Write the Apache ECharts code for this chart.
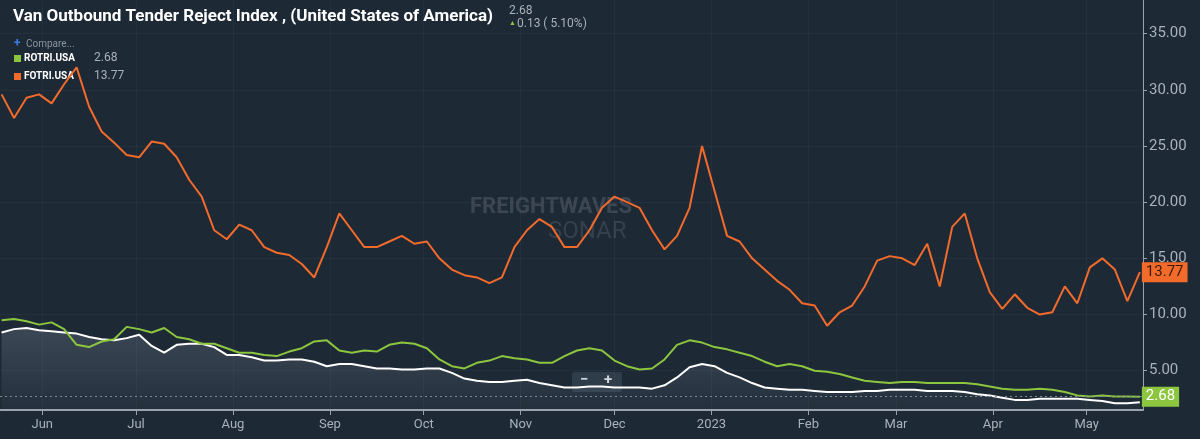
<!DOCTYPE html>
<html><head><meta charset="utf-8">
<script src="https://cdn.jsdelivr.net/npm/echarts@6/dist/echarts.min.js"></script>
<style>html,body{margin:0;padding:0;background:#1e2936}#c{width:1200px;height:439px}</style>
</head><body><div id="c"></div>
<script>
const startDate = '2022-05-19';
const stepDays = 4;
const fotri = [29.6,27.5,29.3,29.6,28.8,30.5,32.0,28.5,26.3,25.3,24.2,24.0,25.4,25.2,24.0,22.0,20.5,17.5,16.7,18.0,17.5,16.0,15.5,15.3,14.5,13.3,16.0,19.0,17.5,16.0,16.0,16.5,17.0,16.3,16.5,15.0,14.0,13.5,13.3,12.8,13.3,16.0,17.5,18.5,17.8,16.0,16.0,17.5,19.5,20.5,20.0,19.5,17.5,15.8,17.0,19.5,25.0,21.0,17.0,16.5,15.0,14.0,13.0,12.2,11.0,10.8,9.0,10.2,10.8,12.5,14.8,15.2,15.0,14.4,16.3,12.5,17.8,19.0,15.0,12.0,10.5,11.8,10.6,10.0,10.2,12.5,11.0,14.2,15.0,14.0,11.2,13.77];
const rotri = [9.5,9.6,9.4,9.1,9.3,8.7,7.3,7.1,7.6,7.8,8.9,8.7,8.4,8.8,8.0,7.8,7.4,7.4,7.0,6.6,6.6,6.4,6.3,6.7,7.0,7.6,7.7,6.8,6.6,6.8,6.7,7.3,7.5,7.4,7.0,6.0,5.4,5.2,5.7,5.9,6.3,6.1,6.0,5.7,5.7,6.3,6.8,7.0,6.8,5.9,5.4,5.1,5.2,6.0,7.3,7.7,7.5,7.1,6.9,6.6,6.3,5.8,5.4,5.6,5.4,5.0,4.9,4.7,4.4,4.1,4.0,3.9,4.0,4.0,3.9,3.9,3.9,3.9,3.8,3.6,3.4,3.3,3.3,3.4,3.3,3.1,2.8,2.7,2.8,2.7,2.7,2.68];
const votri = [8.4,8.7,8.8,8.6,8.5,8.4,8.3,8.0,7.8,7.7,7.9,8.2,7.2,6.6,7.3,7.4,7.4,7.1,6.4,6.4,6.2,5.9,5.9,6.0,6.0,5.8,5.4,5.6,5.6,5.4,5.2,5.2,5.1,5.1,5.2,5.2,4.8,4.3,4.1,4.0,4.0,4.1,4.2,3.9,3.7,3.5,3.5,3.6,3.6,3.5,3.5,3.5,3.4,3.7,4.4,5.3,5.6,5.4,4.8,4.4,3.9,3.5,3.4,3.3,3.3,3.2,3.1,3.1,3.1,3.2,3.2,3.3,3.3,3.3,3.2,3.2,3.2,3.1,2.9,2.8,2.6,2.4,2.4,2.5,2.5,2.5,2.5,2.4,2.3,2.1,2.1,2.2];
const yTicks = [5,10,15,20,25,30,35];
const monthTicks = ['2022-06-01','2022-07-01','2022-08-01','2022-09-01','2022-10-01','2022-11-01','2022-12-01','2023-01-01','2023-02-01','2023-03-01','2023-04-01','2023-05-01'];
const monthNames = ['Jan','Feb','Mar','Apr','May','Jun','Jul','Aug','Sep','Oct','Nov','Dec'];

const t0 = Date.parse(startDate + 'T00:00:00Z');
const dates = fotri.map((_, i) => t0 + i * stepDays * 86400000);
const pair = arr => arr.map((v, i) => [dates[i], v]);
const tickTs = monthTicks.map(d => Date.parse(d + 'T00:00:00Z'));
const fmtMonth = v => { const d = new Date(v); return d.getUTCMonth() === 0 ? String(d.getUTCFullYear()) : monthNames[d.getUTCMonth()]; };

const chart = echarts.init(document.getElementById('c'));
const F = 'Roboto, "Liberation Sans", sans-serif';
const grid = {show: true, lineStyle: {color: 'rgba(255,255,255,0.035)'}};
chart.setOption({
  backgroundColor: '#1e2936',
  animation: false,
  grid: {left: 0, right: 57, top: 0, bottom: 29},
  xAxis: {
    type: 'value', min: t0 - 86400000*0.5, max: dates[dates.length-1] + 86400000,
    axisLine: {show: true, lineStyle: {color: '#9aa3ad', width: 2}},
    axisTick: {show: true, customValues: tickTs, length: 5, lineStyle: {color: '#9aa3ad'}},
    axisLabel: {customValues: tickTs, formatter: fmtMonth, color: '#a9b1ba', fontSize: 13, fontFamily: F, margin: 8},
    splitLine: grid
  },
  yAxis: {
    type: 'value', position: 'right', min: 1.5, max: 38,
    axisLine: {show: true, lineStyle: {color: '#9aa3ad'}},
    axisTick: {show: true, customValues: yTicks, length: 4, lineStyle: {color: '#9aa3ad'}},
    axisLabel: {customValues: yTicks, formatter: v => v.toFixed(2), color: '#a9b1ba', fontSize: 15, fontFamily: F, margin: 6},
    splitLine: grid
  },
  series: [
    {type: 'line', name: 'VOTRI.USA', data: pair(votri), showSymbol: false, lineStyle: {color: '#ffffff', width: 2}, itemStyle: {color: '#ffffff'},
     areaStyle: {color: new echarts.graphic.LinearGradient(0,0,0,1,[{offset:0,color:'rgba(180,195,210,0.28)'},{offset:1,color:'rgba(180,195,210,0.06)'}]), origin: 'start'}},
    {type: 'line', name: 'FOTRI.USA', data: pair(fotri), showSymbol: false, lineStyle: {color: '#f26b2b', width: 2}, itemStyle: {color: '#f26b2b'},
     endLabel: {show: true, formatter: '13.77', color: '#3a1a08', backgroundColor: '#f26b2b', fontSize: 15, fontFamily: F, padding: [3,4,2,4], distance: 2}},
    {type: 'line', name: 'ROTRI.USA', data: pair(rotri), showSymbol: false, lineStyle: {color: '#8cc63f', width: 2}, itemStyle: {color: '#8cc63f'},
     endLabel: {show: true, formatter: '2.68', color: '#ffffff', backgroundColor: '#8cc63f', fontSize: 15, fontFamily: F, padding: [3,4,2,4], distance: 2},
     markLine: {silent: true, symbol: 'none', label: {show: false}, lineStyle: {color: '#7d8a96', type: [2,3], width: 1}, data: [{yAxis: 2.68}]}}
  ],
  graphic: [
    {type: 'text', left: 470, top: 196, z: 0, style: {text: 'FREIGHTWAVES', fill: 'rgba(150,160,170,0.25)', font: 'bold 22px ' + F}},
    {type: 'text', left: 548, top: 220, z: 0, style: {text: 'SONAR', fill: 'rgba(150,160,170,0.2)', font: '24px ' + F}},
    {type: 'text', left: 13, top: 8, style: {text: 'Van Outbound Tender Reject Index , (United States of America)', fill: '#ffffff', font: 'bold 17px ' + F}},
    {type: 'text', left: 509, top: 5, style: {text: '2.68', fill: '#a9b1ba', font: '12px ' + F}},
    {type: 'text', left: 509, top: 20, style: {text: '▲', fill: '#8cc63f', font: '7px ' + F}},
    {type: 'text', left: 517, top: 18, style: {text: '0.13 ( 5.10%)', fill: '#a9b1ba', font: '12px ' + F}},
    {type: 'text', left: 14, top: 38, style: {text: '+', fill: '#3a7fe0', font: 'bold 12px ' + F}},
    {type: 'text', left: 26, top: 39, style: {text: 'Compare...', fill: '#8a949e', font: '10px ' + F}},
    {type: 'rect', left: 14, top: 55, shape: {width: 7, height: 7}, style: {fill: '#8cc63f'}},
    {type: 'text', left: 24, top: 53, style: {text: 'ROTRI.USA', fill: '#ffffff', font: 'bold 10px ' + F}},
    {type: 'text', left: 94, top: 52, style: {text: '2.68', fill: '#a9b1ba', font: '12px ' + F}},
    {type: 'rect', left: 14, top: 73, shape: {width: 7, height: 7}, style: {fill: '#f26b2b'}},
    {type: 'text', left: 24, top: 71, style: {text: 'FOTRI.USA', fill: '#ffffff', font: 'bold 10px ' + F}},
    {type: 'text', left: 94, top: 70, style: {text: '13.77', fill: '#a9b1ba', font: '12px ' + F}},
    {type: 'rect', left: 572, top: 372, shape: {width: 50, height: 20, r: 2}, style: {fill: '#2f3c49'}},
    {type: 'text', left: 580, top: 373, style: {text: '−', fill: '#d0d6dc', font: 'bold 15px ' + F}},
    {type: 'text', left: 604, top: 373, style: {text: '+', fill: '#d0d6dc', font: 'bold 15px ' + F}}
  ]
});
</script></body></html>
